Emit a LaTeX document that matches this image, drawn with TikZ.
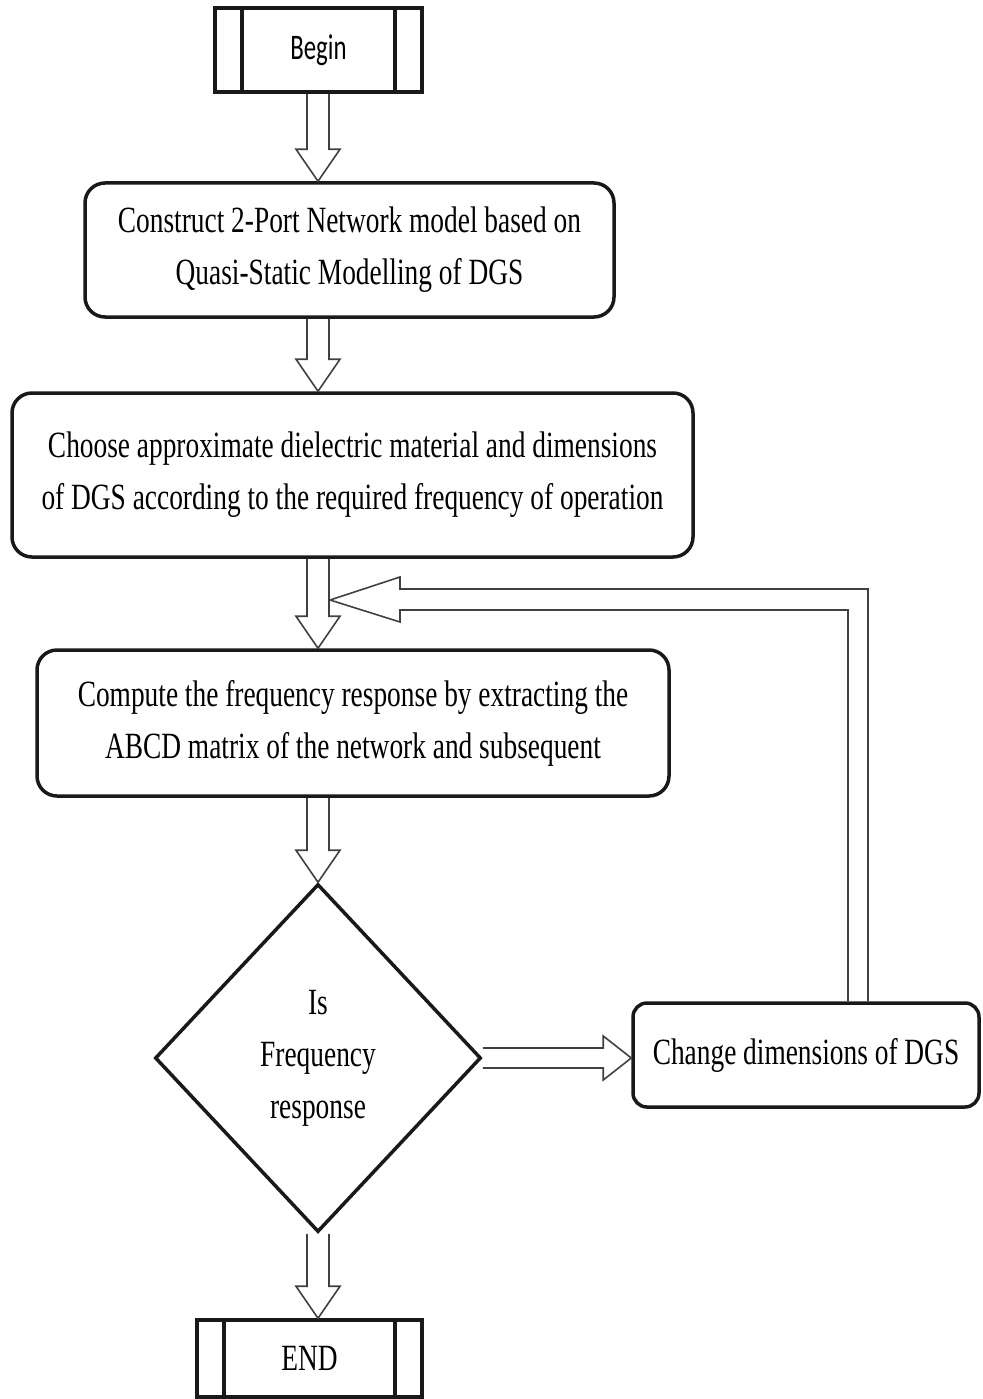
\documentclass[tikz,border=0pt]{standalone}
\usepackage{fontspec}
\usepackage{tikz}
\usetikzlibrary{shapes.geometric, arrows, positioning, calc}
\newfontfamily\boxserif[FakeStretch=0.74]{Liberation Serif}
\newfontfamily\boxsans[FakeStretch=0.69]{Carlito}
\tikzstyle{terminal} = [rectangle, draw=black!90, line width=3.5pt, text=black, align=center, font=\boxserif\fontsize{37}{52}\selectfont,
  path picture={\draw[line width=3.5pt, black!90]
    ([xshift=27pt]path picture bounding box.north west) -- ([xshift=27pt]path picture bounding box.south west)
    ([xshift=-27pt]path picture bounding box.north east) -- ([xshift=-27pt]path picture bounding box.south east);}]
\tikzstyle{process} = [rectangle, rounded corners=20pt, draw=black!90, line width=3.5pt, text=black, align=center, font=\boxserif\fontsize{37}{52}\selectfont]
\tikzstyle{decision} = [diamond, draw=black!90, line width=3.5pt, text=black, align=center, inner sep=0pt, font=\boxserif\fontsize{37}{52}\selectfont]
\tikzstyle{hollow} = [draw=black!75, line width=1.6pt, line join=miter]

\begin{document}
\begin{tikzpicture}[x=1pt, y=-1pt]
    \useasboundingbox (0,0) rectangle (982,1399);
    \coordinate (spine) at (318,0);

    \node[terminal, minimum width=207pt, minimum height=84pt, font=\boxsans\fontsize{36}{40}\selectfont] (begin) at (318.5,50) {Begin};
    \node[process, minimum width=529pt, minimum height=134pt] (construct) at (349.5,250) {Construct 2-Port Network model based on\\Quasi-Static Modelling of DGS};
    \node[process, minimum width=681pt, minimum height=164pt] (choose) at (352.5,475) {Choose approximate dielectric material and dimensions\\of DGS according to the required frequency of operation};
    \node[process, minimum width=632pt, minimum height=146pt] (compute) at (353,723) {Compute the frequency response by extracting the\\ABCD matrix of the network and subsequent};
    \node[decision, minimum width=326pt, minimum height=348pt] (check) at (318,1058) {Is\\Frequency\\response};
    \node[process, rounded corners=14pt, minimum width=346pt, minimum height=104pt] (change) at (806,1055) {Change dimensions of DGS};
    \node[terminal, minimum width=225pt, minimum height=77pt] (stop) at (309.5,1358.5) {END};

    % hollow arrows down the spine
    \foreach \a/\b in {begin/construct, construct/choose, choose/compute, compute/check, check/stop}
        \draw[hollow] ($(\a.south -| spine)+(-11,0)$) -- ($(\b.north -| spine)+(-11,-32)$) -- ++(-11,0)
            -- (\b.north -| spine) -- ++(22,-32) -- ++(-11,0) -- ($(\a.south -| spine)+(11,0)$);

    \draw[hollow] ($(check.east)+(0,-10)$) -- ($(change.west |- check.east)+(-28,-10)$) -- ++(0,-12)
        -- (change.west |- check.east) -- ++(-28,22) -- ++(0,-12) -- ($(check.east)+(0,10)$);

    % loop back to the compute step
    \coordinate (loop) at (330,600);
    \draw[hollow] ($(change.north)+(42,0)$) |- ($(loop)+(70,10)$) -- ++(0,12) -- (loop)
        -- ++(70,-23) -- ++(0,12) -| ($(change.north)+(62,0)$);
\end{tikzpicture}
\end{document}
